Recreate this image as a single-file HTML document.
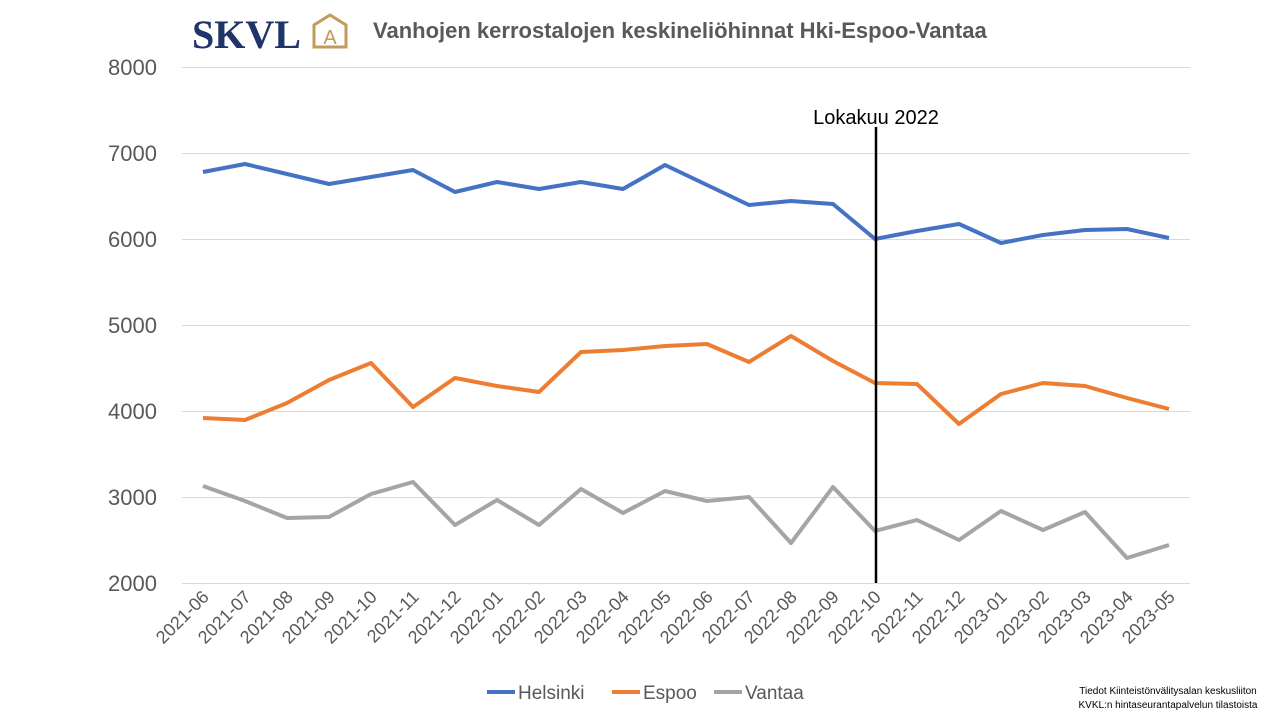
<!DOCTYPE html>
<html><head><meta charset="utf-8"><style>
body{margin:0;background:#fff;width:1280px;height:720px;overflow:hidden;font-family:"Liberation Sans",sans-serif}
</style></head><body>
<svg width="1280" height="720" xmlns="http://www.w3.org/2000/svg" font-family="Liberation Sans, sans-serif">
<text x="192" y="48" font-family="Liberation Serif, serif" font-weight="bold" font-size="40" fill="#1f3467">SKVL</text>
<path d="M314 47 V25 L330 15 L346 25 V47 Z" fill="none" stroke="#c39a5a" stroke-width="3"/>
<text x="330" y="44" text-anchor="middle" font-size="20" fill="#c39a5a">A</text>
<text x="373" y="38" font-size="22" font-weight="bold" fill="#595959">Vanhojen kerrostalojen keskineliöhinnat Hki-Espoo-Vantaa</text>
<g stroke="#d9d9d9" stroke-width="1">
<line x1="182" x2="1190" y1="67.5" y2="67.5"/><line x1="182" x2="1190" y1="153.5" y2="153.5"/><line x1="182" x2="1190" y1="239.5" y2="239.5"/><line x1="182" x2="1190" y1="325.5" y2="325.5"/><line x1="182" x2="1190" y1="411.5" y2="411.5"/><line x1="182" x2="1190" y1="497.5" y2="497.5"/><line x1="182" x2="1190" y1="583.5" y2="583.5"/>
</g>
<g font-size="22" fill="#595959" text-anchor="end">
<text x="157" y="75">8000</text><text x="157" y="161">7000</text><text x="157" y="247">6000</text><text x="157" y="333">5000</text><text x="157" y="419">4000</text><text x="157" y="505">3000</text><text x="157" y="591">2000</text>
</g>
<g font-size="18" fill="#595959" text-anchor="end" id="xl"></g>
<polyline fill="none" stroke="#4472c4" stroke-width="4" stroke-linejoin="round" points="203,172 245,164 287,174 329,184 371,177 413,170 455,192 497,182 539,189 581,182 623,189 665,165 707,185 749,205 791,201 833,204 875,239 917,231 959,224 1001,243 1043,235 1085,230 1127,229 1169,238"/>
<polyline fill="none" stroke="#ed7d31" stroke-width="4" stroke-linejoin="round" points="203,418 245,420 287,403 329,380 371,363 413,407 455,378 497,386 539,392 581,352 623,350 665,346 707,344 749,362 791,336 833,361 875,383 917,384 959,424 1001,394 1043,383 1085,386 1127,398 1169,409"/>
<polyline fill="none" stroke="#a5a5a5" stroke-width="4" stroke-linejoin="round" points="203,486 245,501 287,518 329,517 371,494 413,482 455,525 497,500 539,525 581,489 623,513 665,491 707,501 749,497 791,543 833,487 875,531 917,520 959,540 1001,511 1043,530 1085,512 1127,558 1169,545"/>
<line x1="876" y1="127" x2="876" y2="583" stroke="#000" stroke-width="2.5"/>
<text x="876" y="124" font-size="20" text-anchor="middle" fill="#000">Lokakuu 2022</text>
<g font-size="19" fill="#595959">
<line x1="487" x2="515" y1="692" y2="692" stroke="#4472c4" stroke-width="4"/><text x="518" y="699">Helsinki</text>
<line x1="612" x2="640" y1="692" y2="692" stroke="#ed7d31" stroke-width="4"/><text x="643" y="699">Espoo</text>
<line x1="714" x2="742" y1="692" y2="692" stroke="#a5a5a5" stroke-width="4"/><text x="745" y="699">Vantaa</text>
</g>
<g font-size="10" fill="#000" text-anchor="middle">
<text x="1168" y="694">Tiedot Kiinteistönvälitysalan keskusliiton</text>
<text x="1168" y="708">KVKL:n hintaseurantapalvelun tilastoista</text>
</g>
</svg>
<script>
var labs=["2021-06","2021-07","2021-08","2021-09","2021-10","2021-11","2021-12","2022-01","2022-02","2022-03","2022-04","2022-05","2022-06","2022-07","2022-08","2022-09","2022-10","2022-11","2022-12","2023-01","2023-02","2023-03","2023-04","2023-05"];
var g=document.getElementById('xl'),s='';
labs.forEach(function(l,i){var x=203+42*i+7,y=598;s+='<text x="'+x+'" y="'+y+'" transform="rotate(-45 '+x+' '+y+')">'+l+'</text>';});
g.innerHTML=s;
</script>
</body></html>
